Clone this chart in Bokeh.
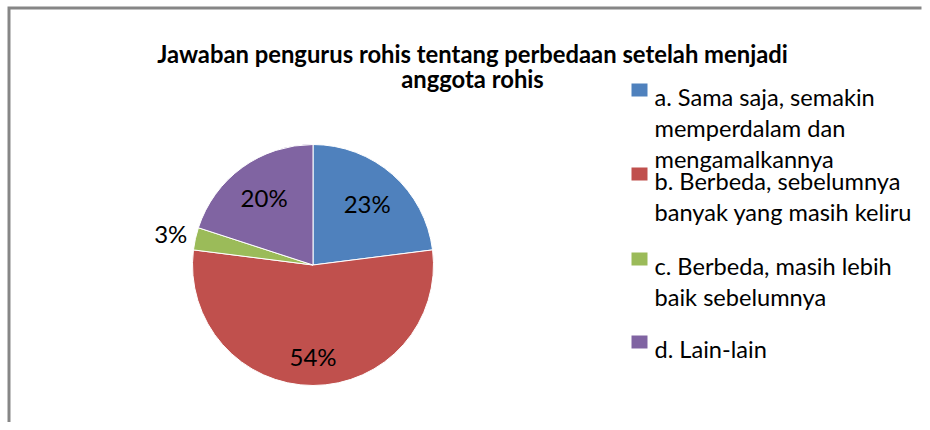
import math
from bokeh.plotting import figure
from bokeh.models import Range1d, ColumnDataSource
from bokeh.core.properties import value
from bokeh.embed import file_html
from bokeh.resources import INLINE

# ---- data ----
title_lines = ["Jawaban pengurus rohis tentang perbedaan setelah menjadi", "anggota rohis"]
categories = ["a. Sama saja, semakin memperdalam dan mengamalkannya",
              "b. Berbeda, sebelumnya banyak yang masih keliru",
              "c. Berbeda, masih lebih baik sebelumnya",
              "d. Lain-lain"]
legend_lines = [["a. Sama saja, semakin", "memperdalam dan", "mengamalkannya"],
                ["b. Berbeda, sebelumnya", "banyak yang masih keliru"],
                ["c. Berbeda, masih lebih", "baik sebelumnya"],
                ["d. Lain-lain"]]
values = [23, 54, 3, 20]
colors = ["#4F81BD", "#C0504D", "#9BBB59", "#8064A2"]

# ---- layout (pixel-based data space) ----
W, H = 922, 422
def X(px):
    return px
def Y(py):
    return H - py

FONT = "Lato"
p = figure(width=W, height=H, output_backend="svg", toolbar_location=None,
           x_range=Range1d(0, W), y_range=Range1d(0, H),
           x_axis_type=None, y_axis_type=None, min_border=0)
p.grid.visible = False
p.outline_line_color = None
p.background_fill_color = "white"
p.border_fill_color = "white"

# chart border (top and left visible) as one L-shaped line
p.line(x=[X(8.5), X(8.5), W - 1], y=[0, Y(7.5), Y(7.5)],
       line_color="#868686", line_width=3, line_join="miter")

# title
p.text(x=[X(472)] * 2, y=[Y(53), Y(78)], text=title_lines,
       text_font=value(FONT), text_font_style="bold", text_font_size="23.8px",
       text_align="center", text_baseline="alphabetic", text_color="#000000")

# pie
cx, cy, r = X(312.5), Y(264.5), 120.5
total = float(sum(values))
starts, ends, mids = [], [], []
cum = 0.0
for v in values:
    a0 = cum / total
    cum += v
    a1 = cum / total
    starts.append(math.pi / 2 - a1 * 2 * math.pi)
    ends.append(math.pi / 2 - a0 * 2 * math.pi)
    mids.append((a0 + a1) / 2)
src = ColumnDataSource(dict(start=starts, end=ends, color=colors, cat=categories))
p.wedge(x=cx, y=cy, radius=r, start_angle="start", end_angle="end",
        fill_color="color", line_color="white", line_width=1, source=src)

# labels
frac = [0.68, 0.76, 1.21, 0.69]
lx = [cx + f * r * math.sin(m * 2 * math.pi) for f, m in zip(frac, mids)]
ly = [cy + f * r * math.cos(m * 2 * math.pi) for f, m in zip(frac, mids)]
labels = ["%d%%" % round(v * 100 / total) for v in values]
p.text(x=lx, y=ly, text=labels, text_font=value(FONT), text_font_size="24px",
       text_align="center", text_baseline="middle", text_color="#000000")

# legend
first_baselines = [96, 180, 265, 348]
line_gap = 31
sq_x0, sq_x1 = X(631), X(647)
text_x = X(654)
tx, ty, tt = [], [], []
for lines, b in zip(legend_lines, first_baselines):
    for i, ln in enumerate(lines):
        tx.append(text_x)
        ty.append(Y(b + i * line_gap))
        tt.append(ln)
p.quad(left=[sq_x0] * 4, right=[sq_x1] * 4,
       top=[Y(b - 13) for b in first_baselines], bottom=[Y(b) for b in first_baselines],
       fill_color=colors, line_color=None)
p.text(x=tx, y=ty, text=tt, text_font=value(FONT), text_font_size="23.6px",
       text_align="left", text_baseline="alphabetic", text_color="#000000")

open("out.html", "w").write(file_html(p, INLINE))
